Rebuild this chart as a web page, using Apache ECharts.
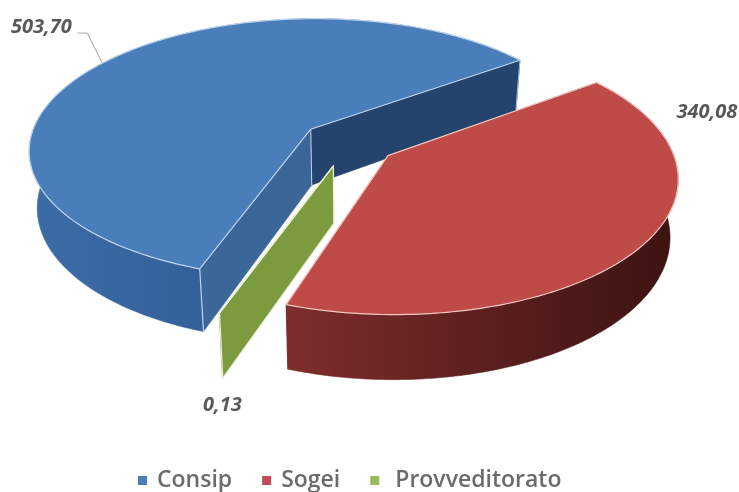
<!DOCTYPE html>
<html>
<head>
<meta charset="utf-8">
<style>html,body{margin:0;padding:0;background:#fff}#c{width:739px;height:492px;filter:blur(0.5px)}</style>
<script src="https://cdn.jsdelivr.net/npm/echarts@6/dist/echarts.min.js"></script>
</head>
<body>
<div id="c"></div>
<script>
const categories = ['Consip', 'Sogei', 'Provveditorato'];
const values = [503.70, 340.08, 0.13];
const valueLabels = ['503,70', '340,08', '0,13'];

const legendColors = ['#4a7ebb', '#be4b55', '#9bbb59'];
const topColors = ['#4a7ebb', '#be4b48', '#7c9b3e'];
const edgeColors = ['#bcd4ee', '#f3c6c0', '#eef4dc'];
const startFaceColors = ['#3a6698', '#7a2c2a', '#7c9b3e'];
const endFaceColors = ['#24446d', '#5a1f1d', '#7c9b3e'];
const wallStops = [
  [[0, '#3c6ca6'], [0.35, '#34609a'], [1, '#2f5688']],
  [[0, '#7e2e2c'], [0.45, '#5f2120'], [1, '#3c1311']],
  [[0, '#7c9b3e'], [1, '#7c9b3e']]
];
const labelOffsets = [[-67, -33], [62, -131], [3, 92]];
const facesBeforeWall = [false, true, false];
const explodeBySlice = [0.18, 0.16, 0.18];
const radiusBySlice = [1, 1, 0.975];
const angleNudgeBySlice = [0, 0, 0.9];

const view = {cx: 351, cy: 143, a: 282, b: 131, k: 0.15, startDeg: 108.9,
  depth: 56.5, lowX: 0.975, lowY: 1.05, leaderShiftDeg: -2};
const total = values.reduce((s, v) => s + v, 0);
const rad = d => d * Math.PI / 180;

function project(u, v, low) {
  const w = 1 - view.k * v;
  const sx = low ? view.lowX : 1, sy = low ? view.lowY : 1;
  return [view.cx + sx * view.a * u / w, view.cy + (low ? view.depth : 0) + sy * view.b * v / w];
}

function sliceStart(idx) {
  let before = 0;
  for (let i = 0; i < idx; i++) before += values[i];
  return view.startDeg + before / total * 360 + angleNudgeBySlice[idx];
}

function makeRender(idx) {
  return function (params, api) {
    const val = api.value(0);
    const s = sliceStart(idx);
    const span = val / total * 360;
    const mid = rad(s + span / 2);
    const ox = explodeBySlice[idx] * Math.cos(mid), oy = explodeBySlice[idx] * Math.sin(mid);
    const r = radiusBySlice[idx];
    const steps = Math.max(2, Math.ceil(span));
    const rim = low => {
      const pts = [];
      for (let i = 0; i <= steps; i++) {
        const t = rad(s + span * i / steps);
        pts.push(project(ox + r * Math.cos(t), oy + r * Math.sin(t), low));
      }
      return pts;
    };
    const topRim = rim(false), lowRim = rim(true);
    const apexT = project(ox, oy, false), apexL = project(ox, oy, true);
    const children = [];
    const poly = (points, fill, stroke, lw) => children.push({
      type: 'polygon', shape: {points}, silent: true,
      style: {fill, stroke: stroke || fill, lineWidth: lw === undefined ? 0.5 : lw, lineJoin: 'round'}
    });
    const line = (points, stroke, lw) => children.push({
      type: 'polyline', shape: {points}, silent: true,
      style: {fill: null, stroke, lineWidth: lw}
    });
    const first = topRim[0], last = topRim[topRim.length - 1];
    const firstL = lowRim[0], lastL = lowRim[lowRim.length - 1];
    const drawWall = () => {
      const grad = new echarts.graphic.LinearGradient(0, 0, 1, 0,
        wallStops[idx].map(p => ({offset: p[0], color: p[1]})));
      poly(topRim.concat(lowRim.slice().reverse()), grad);
    };
    const drawFaces = () => {
      poly([apexT, last, lastL, apexL], endFaceColors[idx]);
      poly([apexT, first, firstL, apexL], startFaceColors[idx], idx === 2 ? edgeColors[2] : null, idx === 2 ? 1.2 : 0.5);
    };
    if (facesBeforeWall[idx]) { drawFaces(); drawWall(); } else { drawWall(); drawFaces(); }
    if (idx === 0) {
      line([first, firstL], edgeColors[0], 1.2);
      line([apexT, apexL], edgeColors[0], 1);
      line([last, lastL], edgeColors[0], 0.8);
    }
    poly([apexT].concat(topRim), topColors[idx], edgeColors[idx], 1.2);

    const rimMid = project(ox + r * Math.cos(mid), oy + r * Math.sin(mid), false);
    const off = labelOffsets[idx];
    const lx = rimMid[0] + off[0], ly = rimMid[1] + off[1];
    if (idx === 0) {
      const lt = mid + rad(view.leaderShiftDeg);
      line([[lx + 36, ly + 6], [lx + 46, ly + 6], project(ox + r * Math.cos(lt), oy + r * Math.sin(lt), false)], '#a6a6a6', 1);
    }
    children.push({
      type: 'text', silent: true, x: lx, y: ly,
      style: {text: valueLabels[idx], fill: '#595959', align: 'center', verticalAlign: 'middle',
        font: 'italic bold 20px "Open Sans"'}
    });
    return {type: 'group', children};
  };
}

const chart = echarts.init(document.getElementById('c'), null, {renderer: 'canvas'});
const drawOrder = [0, 2, 1];
chart.setOption({
  animation: false,
  backgroundColor: '#fff',
  legend: {
    left: 138, top: 469, padding: 0, itemWidth: 9, itemHeight: 9, itemGap: 30, icon: 'rect',
    textStyle: {color: '#6b6b6b', fontFamily: 'Open Sans', fontSize: 23, fontWeight: 600, padding: [0, 0, 0, 5]},
    data: [
      {name: categories[0]}, {name: categories[1]},
      {name: categories[2], textStyle: {padding: [0, 0, 0, 11]}}
    ]
  },
  series: drawOrder.map(i => ({
    type: 'custom', name: categories[i], coordinateSystem: 'none',
    itemStyle: {color: legendColors[i]},
    data: [[values[i]]], renderItem: makeRender(i), clip: false
  }))
});
</script>
</body>
</html>
